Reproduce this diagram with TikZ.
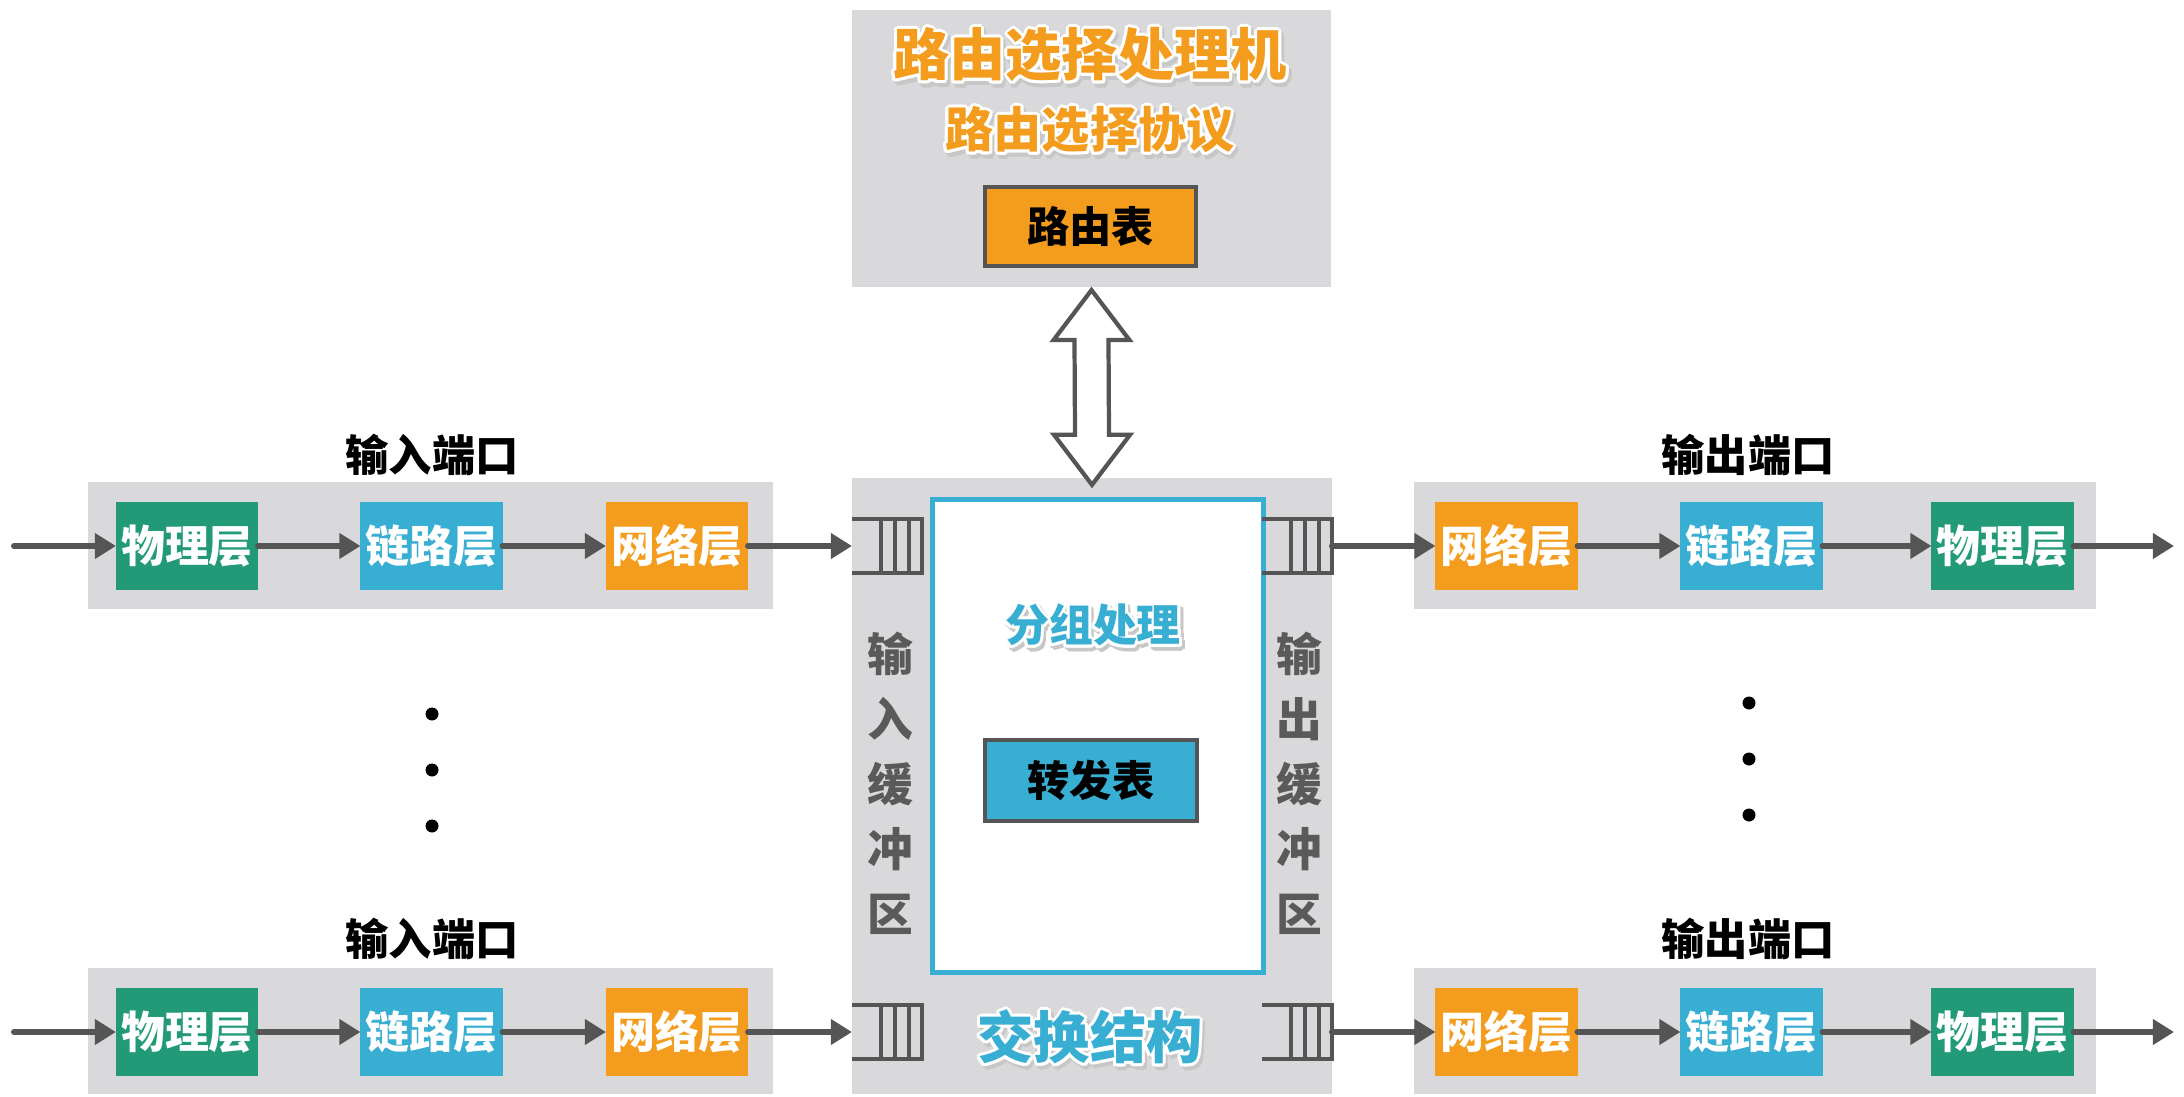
\documentclass[tikz,border=0pt]{standalone}
\usepackage{fontspec}
\newfontfamily\cjk{Noto Sans CJK SC}
\usetikzlibrary{arrows.meta,calc}
\definecolor{bggray}{HTML}{D9D9DB}
\definecolor{lgreen}{HTML}{229A78}
\definecolor{lcyan}{HTML}{38AED3}
\definecolor{lorange}{HTML}{F39C1E}
\definecolor{dline}{HTML}{555555}
\definecolor{vtext}{HTML}{5A5A5A}
\tikzset{
  panel/.style={fill=bggray, draw=none, inner sep=0pt, outer sep=0pt},
  layer/.style={minimum width=14.2mm, minimum height=8.8mm, inner sep=0pt, outer sep=0pt,
    text=white, font=\cjk\bfseries\fontsize{12.5}{14}\selectfont},
  phys/.style={layer, fill=lgreen},
  link/.style={layer, fill=lcyan},
  net/.style={layer, fill=lorange},
  flow/.style={draw=dline, line width=1.7pt, line cap=round, -{Triangle[length=6pt,width=7pt]}},
  qline/.style={draw=dline, line width=1.2pt},
  porttitle/.style={font=\cjk\bfseries\fontsize{12.3}{14}\selectfont, text=black, inner sep=0pt},
  tablebox/.style={draw=dline, line width=1.15pt, inner sep=0pt, outer sep=0pt,
    font=\cjk\bfseries\fontsize{12}{14}\selectfont, text=black},
  bigorange/.style={font=\cjk\bfseries\fontsize{16}{18}\selectfont, text=lorange, inner sep=0pt},
  midorange/.style={font=\cjk\bfseries\fontsize{13.7}{16}\selectfont, text=lorange, inner sep=0pt},
  bigcyan/.style={font=\cjk\bfseries\fontsize{16}{18}\selectfont, text=lcyan, inner sep=0pt},
  midcyan/.style={font=\cjk\bfseries\fontsize{12.5}{14}\selectfont, text=lcyan, inner sep=0pt},
  vert/.style={font=\cjk\bfseries\fontsize{13}{18.5}\selectfont, text=vtext, align=center, inner sep=0pt},
  dotmark/.style={fill=black, draw=none},
  queue/.pic={
    \draw[qline] (0,-27) -- (70,-27) -- (70,27) -- (0,27);
    \foreach \v in {29,43,57} \draw[qline] (\v,-27) -- (\v,27);
    \coordinate (-in) at (0,0);
    \coordinate (-out) at (70,0);
  }
}
\newcommand\halotext[4]{%
  \foreach \ang in {0,30,...,330}{\node[#3,text=black!22] at ($(#2)+(2.5,3.5)+(\ang:3)$) {#4};}
  \foreach \ang in {0,30,...,330}{\node[#3,text=white] at ($(#2)+(\ang:3)$) {#4};}
  \node[#3] (#1) at (#2) {#4};%
}
\begin{document}
\begin{tikzpicture}[x=0.01cm,y=-0.01cm]
\useasboundingbox (0,0) rectangle (2184,1097);

% routing processor
\node[panel, minimum width=47.9mm, minimum height=27.7mm] (rp) at (1091.5,148.5) {};
\halotext{rptitle}{1090,55}{bigorange}{路由选择处理机}
\halotext{rpproto}{1090,130}{midorange}{路由选择协议}
\node[tablebox, fill=lorange, minimum width=21.1mm, minimum height=7.9mm] (rt) at (1090.5,226.5) {路由表};

% switch fabric
\node[panel, minimum width=48mm, minimum height=61.6mm] (sw) at (1092,786) {};
\node[draw=lcyan, line width=1.4pt, fill=white, inner sep=0pt, outer sep=0pt,
      minimum width=33.1mm, minimum height=47.3mm] (pp) at (1098,736) {};
\halotext{pptitle}{1093,625}{midcyan}{分组处理}
\node[tablebox, fill=lcyan, minimum width=21.2mm, minimum height=8.1mm] (ft) at (1091,780.5) {转发表};
\halotext{swtitle}{1090,1037}{bigcyan}{交换结构}
\node[vert] (ibuf) at (890,783) {输\\入\\缓\\冲\\区};
\node[vert] (obuf) at (1299,783) {输\\出\\缓\\冲\\区};

% double arrow between routing processor and switch fabric
\coordinate (dt) at ($(rp.south)+(0,3)$);
\coordinate (db) at ($(sw.north)+(0,7)$);
\draw[dline, line width=1.2pt, fill=white, line join=miter]
  (dt) -- ($(dt)+(38,50)$) -- ($(dt)+(17,50)$) -- ($(db)+(17,-50)$) -- ($(db)+(38,-50)$)
  -- (db) -- ($(db)+(-38,-50)$) -- ($(db)+(-17,-50)$) -- ($(dt)+(-17,50)$) -- ($(dt)+(-38,50)$) -- cycle;

% queues
\pic (qi1) at (852,546) {queue};
\pic (qo1) at (1262,546) {queue};
\pic (qi2) at (852,1032) {queue};
\pic (qo2) at (1262,1032) {queue};

% input ports
\node[porttitle] (ipt1) at (432,455) {输入端口};
\node[panel, minimum width=68.5mm, minimum height=12.7mm] (ip1) at (430.5,545.5) {};
\node[phys] (i1p) at (187,546) {物理层};
\node[link] (i1l) at (431.5,546) {链路层};
\node[net]  (i1n) at (677,546) {网络层};

\node[porttitle] (ipt2) at (432,939) {输入端口};
\node[panel, minimum width=68.5mm, minimum height=12.6mm] (ip2) at (430.5,1031) {};
\node[phys] (i2p) at (187,1032) {物理层};
\node[link] (i2l) at (431.5,1032) {链路层};
\node[net]  (i2n) at (677,1032) {网络层};

% output ports
\node[porttitle] (opt1) at (1748,455) {输出端口};
\node[panel, minimum width=68.2mm, minimum height=12.7mm] (op1) at (1755,545.5) {};
\node[net]  (o1n) at (1506.5,546) {网络层};
\node[link] (o1l) at (1751.5,546) {链路层};
\node[phys] (o1p) at (2002.5,546) {物理层};

\node[porttitle] (opt2) at (1748,939) {输出端口};
\node[panel, minimum width=68.2mm, minimum height=12.6mm] (op2) at (1755,1031) {};
\node[net]  (o2n) at (1506.5,1032) {网络层};
\node[link] (o2l) at (1751.5,1032) {链路层};
\node[phys] (o2p) at (2002.5,1032) {物理层};

% free ends
\coordinate (src1) at (14,546);
\coordinate (src2) at (14,1032);
\coordinate (dst1) at (2174,546);
\coordinate (dst2) at (2174,1032);

% flows
\draw[flow] (src1) -- (i1p);
\draw[flow] (i1p) -- (i1l);
\draw[flow] (i1l) -- (i1n);
\draw[flow] (i1n) -- (qi1-in);
\draw[flow] (qo1-out) -- (o1n);
\draw[flow] (o1n) -- (o1l);
\draw[flow] (o1l) -- (o1p);
\draw[flow] (o1p) -- (dst1);

\draw[flow] (src2) -- (i2p);
\draw[flow] (i2p) -- (i2l);
\draw[flow] (i2l) -- (i2n);
\draw[flow] (i2n) -- (qi2-in);
\draw[flow] (qo2-out) -- (o2n);
\draw[flow] (o2n) -- (o2l);
\draw[flow] (o2l) -- (o2p);
\draw[flow] (o2p) -- (dst2);

% dots
\foreach \yy [count=\k] in {714,770,826} \fill[dotmark] (432,\yy) circle (6.5) coordinate (ld\k);
\foreach \yy [count=\k] in {703,759,815} \fill[dotmark] (1749,\yy) circle (6.5) coordinate (rd\k);
\end{tikzpicture}
\end{document}
